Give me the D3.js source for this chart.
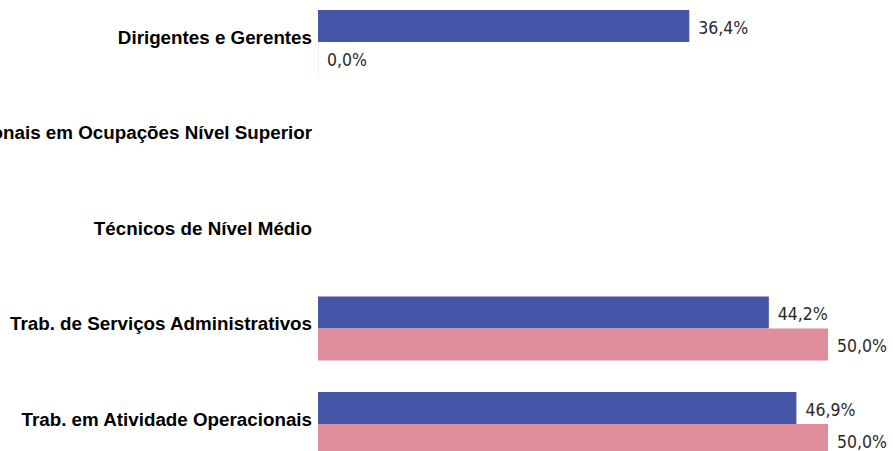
<!DOCTYPE html>
<html lang="pt">
    <head>
        <meta charset="UTF-8" />
        <title>Ocupações</title>
        <script src="https://d3js.org/d3.v7.min.js"></script>
        <style>
            body { margin: 0; background: #fff; }
            .cat { font-family: "Liberation Sans", Arial, sans-serif; font-weight: bold; font-size: 18.8px; fill: #000; }
            .val { font-family: "DejaVu Sans", sans-serif; font-stretch: condensed; font-size: 17.5px; fill: #2a2a2a; }
        </style>
    </head>
    <body>
        <svg width="893" height="451"></svg>

        <script>
            const width = 893;
            const height = 451;

            // categorias
            const categories = [
                "Dirigentes e Gerentes",
                "Profissionais em Ocupações Nível Superior",
                "Técnicos de Nível Médio",
                "Trab. de Serviços Administrativos",
                "Trab. em Atividade Operacionais",
            ];

            // séries (null = sem barra)
            const seriesNames = ["Série A", "Série B"];
            const valuesA = [36.4, null, null, 44.2, 46.9];
            const valuesB = [0.0, null, null, 50.0, 50.0];
            const colors = ["#4555a8", "#e08e9c"];

            const svg = d3.select("svg");

            // escalas
            const y0 = d3.scaleBand().domain(categories).range([10, 10 + 95.5 * categories.length]);
            const y1 = d3.scaleBand().domain(seriesNames).range([0, 64]);
            const x = d3.scaleLinear().domain([0, 50]).range([318, 828]);

            const fmt = (v) => v.toFixed(1).replace(".", ",") + "%";

            const rows = [];
            categories.forEach((c, i) => {
                [valuesA, valuesB].forEach((vals, j) => {
                    if (vals[i] != null) rows.push({ cat: c, s: seriesNames[j], v: vals[i], color: colors[j] });
                });
            });

            // barras
            svg.append("g")
                .selectAll("rect")
                .data(rows)
                .join("rect")
                .attr("x", x(0))
                .attr("y", (d) => y0(d.cat) + y1(d.s))
                .attr("width", (d) => Math.max(x(d.v) - x(0), 0.6))
                .attr("height", y1.bandwidth())
                .attr("fill", (d) => d.color)
                .attr("opacity", (d) => (d.v === 0 ? 0.3 : 1));

            // rótulos de valor
            svg.append("g")
                .selectAll("text")
                .data(rows)
                .join("text")
                .attr("class", "val")
                .attr("x", (d) => x(d.v) + 9)
                .attr("y", (d) => y0(d.cat) + y1(d.s) + y1.bandwidth() / 2 + 1.5)
                .attr("dy", "0.35em")
                .text((d) => fmt(d.v));

            // rótulos das categorias
            svg.append("g")
                .selectAll("text")
                .data(categories)
                .join("text")
                .attr("class", "cat")
                .attr("x", 312)
                .attr("y", (d) => y0(d) + 27)
                .attr("dy", "0.35em")
                .attr("text-anchor", "end")
                .text((d) => d);
        </script>
    </body>
</html>
